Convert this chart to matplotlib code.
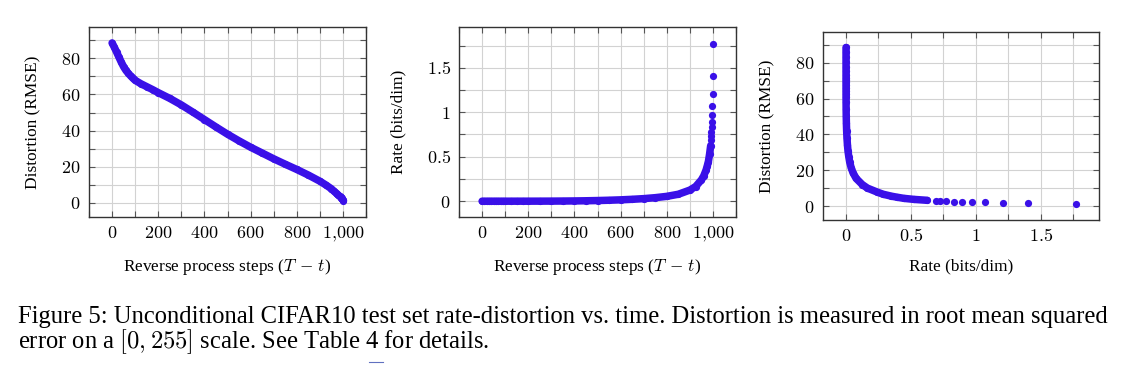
import matplotlib
matplotlib.use("Agg")
import matplotlib.pyplot as plt
from matplotlib.ticker import FixedLocator, MultipleLocator, FixedFormatter

plt.rcParams['font.family'] = ['Liberation Serif', 'DejaVu Serif']
plt.rcParams['mathtext.fontset'] = 'cm'

# Werte (Schritt, Distortion RMSE, Rate bits/dim)
steps = [0, 10, 20, 30, 40, 50, 60, 70, 80, 90, 100, 125, 150, 175, 200,
         250, 300, 350, 400, 450, 500, 550, 600, 650, 700, 750, 800, 850,
         900, 925, 950, 960, 970, 975, 980, 985, 990, 991, 992, 993, 994,
         995, 996, 997, 998, 999, 1000]
distortion = [88.5, 86.0, 83.3, 80.5, 77.8, 75.3, 73.3, 71.7, 70.3, 69.0,
              67.8, 65.9, 64.3, 62.7, 61.0, 57.8, 54.2, 50.2, 46.1, 42.0,
              38.0, 34.3, 30.8, 27.6, 24.4, 21.4, 18.5, 15.4, 12.0, 10.0,
              7.8, 6.6, 5.5, 4.9, 4.3, 3.7, 3.2, 3.05, 2.9, 2.7, 2.5,
              2.35, 2.2, 2.0, 1.8, 1.45, 0.95]
rate = [0.0, 0.0, 0.0, 0.0, 0.0, 0.0, 0.0, 0.0, 0.0, 0.0,
        0.0, 0.0, 0.0001, 0.0001, 0.0001, 0.0004, 0.0008, 0.0016, 0.0028, 0.0046,
        0.0072, 0.0107, 0.0151, 0.0211, 0.0287, 0.0395, 0.0542, 0.078,
        0.125, 0.165, 0.24, 0.285, 0.35, 0.395, 0.445, 0.525, 0.625, 0.69,
        0.728, 0.774, 0.830, 0.895, 0.972, 1.075, 1.208, 1.404, 1.772]

step_ticks = [0, 200, 400, 600, 800, 1000]
step_labels = ['$0$', '$200$', '$400$', '$600$', '$800$', '$1{,}000$']
dist_ticks = [0, 20, 40, 60, 80]
dist_labels = ['$0$', '$20$', '$40$', '$60$', '$80$']
rate_ticks = [0, 0.5, 1, 1.5]
rate_labels = ['$0$', '$0.5$', '$1$', '$1.5$']

farbe = '#3a10e8'
n_linie = steps.index(990) + 1

fig = plt.figure(figsize=(11.34, 3.79), dpi=100)
ax1 = fig.add_axes([0.0785, 0.4274, 0.2443, 0.5013])
ax2 = fig.add_axes([0.4048, 0.4274, 0.2443, 0.5013])
ax3 = fig.add_axes([0.7257, 0.4195, 0.2434, 0.4968])


def achse(ax, xt, xl, xmin, yt, yl, ymin):
    ax.xaxis.set_major_locator(FixedLocator(xt))
    ax.xaxis.set_major_formatter(FixedFormatter(xl))
    ax.xaxis.set_minor_locator(MultipleLocator(xmin))
    ax.yaxis.set_major_locator(FixedLocator(yt))
    ax.yaxis.set_major_formatter(FixedFormatter(yl))
    ax.yaxis.set_minor_locator(MultipleLocator(ymin))
    ax.grid(True, which='both', color='#d2d2d2', linewidth=0.8, zorder=0)
    ax.set_axisbelow(True)
    ax.tick_params(which='both', direction='in', top=True, right=True,
                   length=4, width=0.8, color='#555555', labelsize=13, pad=6)
    for s in ax.spines.values():
        s.set_color('#333333')
        s.set_linewidth(1.0)


def kurve(ax, x, y):
    ax.plot(x[:n_linie], y[:n_linie], color=farbe, linewidth=5.4,
            solid_capstyle='round', zorder=3)
    ax.plot(x, y, 'o', color=farbe, markersize=5.2, markeredgewidth=0, zorder=4)


# Distortion ueber Zeit
kurve(ax1, steps, distortion)
achse(ax1, step_ticks, step_labels, 100, dist_ticks, dist_labels, 10)
ax1.set_xlim(-100, 1100)
ax1.set_ylim(-7.8, 97.3)
ax1.set_xlabel('Reverse process steps ($T\\,-\\,t$)', fontsize=12.4, va='center')
ax1.set_ylabel('Distortion (RMSE)', fontsize=12.4, va='center')
ax1.xaxis.set_label_coords(0.5, -0.263)
ax1.yaxis.set_label_coords(-0.202, 0.5)

# Rate ueber Zeit
kurve(ax2, steps, rate)
achse(ax2, step_ticks, step_labels, 100, rate_ticks, rate_labels, 0.25)
ax2.set_xlim(-100, 1100)
ax2.set_ylim(-0.178, 1.958)
ax2.set_xlabel('Reverse process steps ($T\\,-\\,t$)', fontsize=12.4, va='center')
ax2.set_ylabel('Rate (bits/dim)', fontsize=12.4, va='center')
ax2.xaxis.set_label_coords(0.5, -0.263)
ax2.yaxis.set_label_coords(-0.22, 0.5)

# Rate-Distortion
kurve(ax3, rate, distortion)
achse(ax3, rate_ticks, rate_labels, 0.25, dist_ticks, dist_labels, 10)
ax3.set_xlim(-0.178, 1.95)
ax3.set_ylim(-7.8, 97.3)
ax3.set_xlabel('Rate (bits/dim)', fontsize=12.4, va='center')
ax3.set_ylabel('Distortion (RMSE)', fontsize=12.4, va='center')
ax3.xaxis.set_label_coords(0.5, -0.245)
ax3.yaxis.set_label_coords(-0.203, 0.5)

# Bildunterschrift
fig.text(0.016, 1 - 317 / 379,
         'Figure 5: Unconditional CIFAR10 test set rate-distortion vs. time. '
         'Distortion is measured in root mean squared',
         fontsize=17.7, va='center', ha='left')
fig.text(0.016, 1 - 342 / 379,
         'error on a $[0, 255]$ scale. See Table 4 for details.',
         fontsize=17.7, va='center', ha='left')
fig.add_artist(plt.Line2D([369 / 1134, 383 / 1134], [1 - 362 / 379, 1 - 362 / 379],
                          color='#6070c0', linewidth=0.8))

fig.savefig('out.png', dpi=100)
